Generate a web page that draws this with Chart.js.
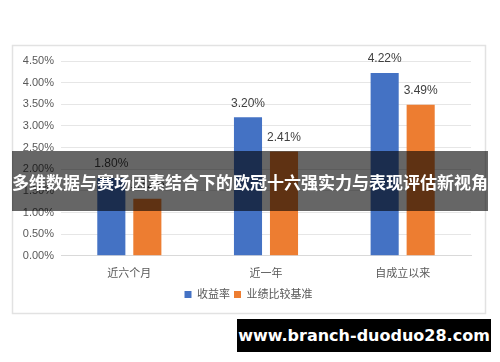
<!DOCTYPE html>
<html>
<head>
<meta charset="utf-8">
<script src="https://cdn.jsdelivr.net/npm/chart.js@4.4.0/dist/chart.umd.min.js"></script>
<style>
  html, body { margin: 0; padding: 0; background: #fff; }
  #wrap { position: relative; width: 500px; height: 362px; overflow: hidden; }
  #banner {
    position: absolute; left: 12px; top: 151px; width: 476px; height: 60px;
    background: rgba(0,0,0,0.6); color: #fff;
    font: bold 17px "Noto Sans CJK SC", sans-serif;
    display: flex; align-items: center; justify-content: center; white-space: nowrap;
  }
  #mark {
    position: absolute; left: 237px; top: 319px; width: 254px; height: 33px;
    background: #000; color: #fff;
    font: bold 16px "DejaVu Sans", sans-serif;
    display: flex; align-items: center; justify-content: center; white-space: nowrap;
  }
</style>
</head>
<body>
<div id="wrap">
  <canvas id="chart" width="500" height="362"></canvas>
  <div id="banner">多维数据与赛场因素结合下的欧冠十六强实力与表现评估新视角</div>
  <div id="mark">www.branch-duoduo28.com</div>
</div>
<script>
const categories = ['近六个月', '近一年', '自成立以来'];
const returns = [1.80, 3.20, 4.22];
const benchmark = [1.32, 2.41, 3.49];
const seriesNames = ['收益率', '业绩比较基准'];

const FONT = '"Liberation Sans", Arial, "Noto Sans CJK SC", sans-serif';

// light frame around the chart
const framePlugin = {
    id: 'frame',
    beforeDraw(chart) {
        const c = chart.ctx;
        c.save();
        c.strokeStyle = '#e2e2e2';
        c.lineWidth = 1.5;
        c.strokeRect(12.5, 45.5, 473, 268);
        c.restore();
    }
};

// legend sits a bit right of the canvas centre in the original
const nudgeLegend = {
    id: 'nudgeLegend',
    afterLayout(chart) {
        chart.legend.left += 7;
        chart.legend.right += 7;
    }
};

// value labels above each bar
const valueLabels = {
    id: 'valueLabels',
    afterDatasetsDraw(chart) {
        const c = chart.ctx;
        c.save();
        c.font = '12px ' + FONT;
        c.fillStyle = '#404040';
        c.textAlign = 'center';
        c.textBaseline = 'middle';
        chart.data.datasets.forEach((ds, i) => {
            chart.getDatasetMeta(i).data.forEach((bar, j) => {
                c.fillText(ds.data[j].toFixed(2) + '%', bar.x, bar.y - 14);
            });
        });
        c.restore();
    }
};

new Chart(document.getElementById('chart'), {
    type: 'bar',
    data: {
        labels: categories,
        datasets: [
            { label: seriesNames[0], data: returns, backgroundColor: '#4472C4' },
            { label: seriesNames[1], data: benchmark, backgroundColor: '#ED7D31' }
        ]
    },
    options: {
        responsive: false,
        animation: false,
        categoryPercentage: 0.527,
        barPercentage: 0.78,
        layout: { padding: { left: 12, right: 29, top: 61, bottom: 52 } },
        plugins: {
            legend: {
                position: 'bottom',
                labels: {
                    boxWidth: 7, boxHeight: 7, padding: 4,
                    color: '#595959', font: { size: 11, family: FONT }
                }
            },
            tooltip: { enabled: false }
        },
        scales: {
            x: {
                grid: { display: false },
                border: { display: true, color: '#d9d9d9' },
                ticks: { color: '#595959', font: { size: 11, family: FONT }, padding: 4 }
            },
            y: {
                min: 0, max: 4.5,
                afterFit(scale) { scale.width = 49; },
                grid: { color: '#e6e6e6', drawTicks: false },
                border: { display: false },
                ticks: {
                    stepSize: 0.5, padding: 7,
                    color: '#595959', font: { size: 11, family: FONT },
                    callback: v => v.toFixed(2) + '%'
                }
            }
        }
    },
    plugins: [framePlugin, nudgeLegend, valueLabels]
});
</script>
</body>
</html>
